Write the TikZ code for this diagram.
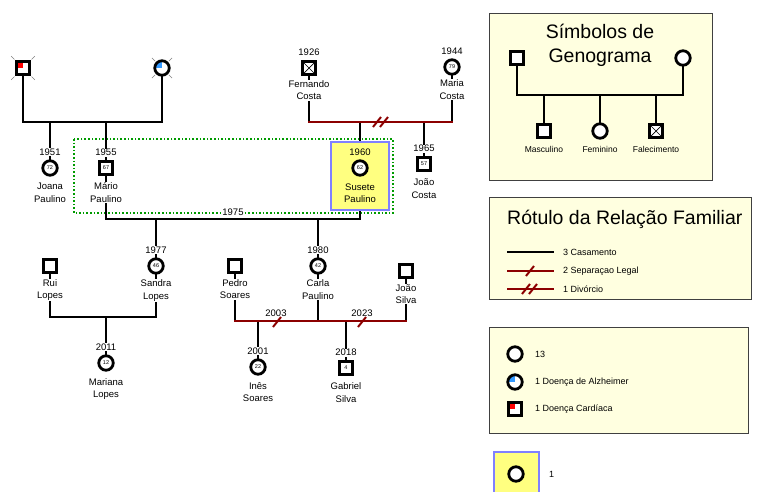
\documentclass[tikz,border=0pt]{standalone}
\usepackage{fontspec}
\setmainfont{Liberation Sans}
\usetikzlibrary{positioning,backgrounds,calc}
\definecolor{relred}{RGB}{140,0,0}
\definecolor{famgreen}{RGB}{0,155,0}
\definecolor{probblue}{RGB}{128,128,255}
\definecolor{probyellow}{RGB}{255,255,128}
\definecolor{legcream}{RGB}{255,255,224}
\definecolor{alzblue}{RGB}{51,153,255}

\begin{document}
\begin{tikzpicture}[x=1pt,y=-1pt,
    male/.style={
        draw,
        line width=2.8pt,
        fill=white,
        minimum size=13.5pt,
        inner sep=0pt,
        font=\fontsize{5.5}{5.5}\selectfont
    },
    female/.style={male, circle, minimum size=14.5pt},
    dead/.style={path picture={
        \draw[line width=0.7pt] (path picture bounding box.north west) -- (path picture bounding box.south east)
            (path picture bounding box.north east) -- (path picture bounding box.south west);}},
    cardiac/.style={path picture={
        \fill[red] (path picture bounding box.north west) rectangle (path picture bounding box.center);}},
    alzheimer/.style={path picture={
        \fill[alzblue] (path picture bounding box.north west) rectangle (path picture bounding box.center);}},
    yr/.style={font=\fontsize{9.5}{11}\selectfont, fill=white, inner sep=0.6pt},
    nm/.style={yr, align=center, font=\fontsize{9.5}{12.5}\selectfont},
    rel/.style={line width=2.4pt, line cap=rect},
    seprel/.style={line width=2.4pt, line cap=rect, relred},
    cutline/.style={line width=2pt, relred},
    ray/.style={gray, line width=0.6pt},
    legbox/.style={draw=black!75, fill=legcream, line width=0.8pt},
    probandbox/.style={draw=probblue, fill=probyellow, line width=2.6pt},
    famframe/.style={famgreen, dotted, line width=1.6pt},
    legtxt/.style={anchor=west, inner sep=0pt, font=\fontsize{9}{10}\selectfont},
    symtxt/.style={inner sep=0pt, font=\fontsize{8.5}{10}\selectfont},
    legtitle/.style={font=\fontsize{19.5}{24}\selectfont, align=center, inner sep=0pt}
]
\useasboundingbox (0,0) rectangle (758,491);

% ---------------- levels of the family lines ----------------
\coordinate (l1) at (0,122);
\coordinate (l2) at (0,122);
\coordinate (l3) at (0,219);
\coordinate (l4) at (0,317);
\coordinate (l5) at (0,321);

% ---------------- proband ----------------
\node[probandbox, minimum width=58pt, minimum height=68pt] (susbox) at (360,176) {};

% ---------------- people ----------------
\node[male, cardiac] (avo) at (23,68) {};
\node[female, alzheimer] (avoa) at (162,68) {};

\node[female] (joana) at (50,168) {72};
\node[yr, above=3pt of joana] (joanayr) {1951};
\node[nm, below=6pt of joana] (joananm) {Joana\\Paulino};

\node[male] (mario) at (106,168) {67};
\node[yr, above=3pt of mario] (marioyr) {1955};
\node[nm, below=6pt of mario] (marionm) {Mário\\Paulino};

\node[male, dead] (fernando) at (309,68) {};
\node[yr, above=3pt of fernando] (fernandoyr) {1926};
\node[nm, below=3.5pt of fernando] (fernandonm) {Fernando\\Costa};

\node[female] (maria) at (452,67) {79};
\node[yr, above=3pt of maria] (mariayr) {1944};
\node[nm, below=3.5pt of maria] (marianm) {Maria\\Costa};

\node[female] (susete) at (360,168) {62};
\node[yr, fill=none, above=3pt of susete] (suseteyr) {1960};
\node[nm, fill=none, below=6pt of susete] (susetenm) {Susete\\Paulino};

\node[male] (joaoc) at (424,164) {57};
\node[yr, above=3pt of joaoc] (joaocyr) {1965};
\node[nm, below=6pt of joaoc] (joaocnm) {João\\Costa};

\node[female] (sandra) at (156,266) {46};
\node[yr, above=3pt of sandra] (sandrayr) {1977};
\node[nm, below=4.5pt of sandra] (sandranm) {Sandra\\Lopes};

\node[male] (rui) at (50,266) {};
\node[nm, below=4.5pt of rui] (ruinm) {Rui\\Lopes};

\node[female] (mariana) at (106,363) {12};
\node[yr, above=3pt of mariana] (marianayr) {2011};
\node[nm, below=6pt of mariana] (mariananm) {Mariana\\Lopes};

\node[male] (pedro) at (235,266) {};
\node[nm, below=4.5pt of pedro] (pedronm) {Pedro\\Soares};

\node[female] (carla) at (318,266) {42};
\node[yr, above=3pt of carla] (carlayr) {1980};
\node[nm, below=4.5pt of carla] (carlanm) {Carla\\Paulino};

\node[male] (joaos) at (406,271) {};
\node[nm, below=4.5pt of joaos] (joaosnm) {João\\Silva};

\node[female] (ines) at (258,367) {22};
\node[yr, above=3pt of ines] (inesyr) {2001};
\node[nm, below=6pt of ines] (inesnm) {Inês\\Soares};

\node[male] (gabriel) at (346,368) {4};
\node[yr, above=3pt of gabriel] (gabrielyr) {2018};
\node[nm, below=6pt of gabriel] (gabrielnm) {Gabriel\\Silva};

% deceased marks
\foreach \a in {45,135,225,315} {
    \draw[ray] ($(avo)!1.05!(avo.\a)$) -- ($(avo)!1.45!(avo.\a)$);
    \draw[ray] ($(avoa)!1.12!(avoa.\a)$) -- ($(avoa)!1.65!(avoa.\a)$);
}

% relation labels
\node[yr] (y1975) at (233,212) {1975};
\node[yr] (y2003) at (276,313) {2003};
\node[yr] (y2023) at (362,313) {2023};

\coordinate (d1) at (381,122);
\coordinate (s1) at (277,322);
\coordinate (s2) at (362,322);
\draw[cutline] ($(d1)+(-8,5)$) -- ($(d1)+(0,-5)$);
\draw[cutline] ($(d1)+(-1,5)$) -- ($(d1)+(7,-5)$);
\draw[cutline] ($(s1)+(-4,5)$) -- ($(s1)+(4,-5)$);
\draw[cutline] ($(s2)+(-4,5)$) -- ($(s2)+(4,-5)$);

% ---------------- legend ----------------
\node[legtitle] (symtitle) at (600,45) {Símbolos de\\Genograma};
\node[male] (lm) at (517,58) {};
\node[female] (lf) at (683,58) {};
\node[male] (lc1) at (544,131) {};
\node[female] (lc2) at (600,131) {};
\node[male, dead] (lc3) at (656,131) {};
\node[symtxt] (lc1txt) at (544,149) {Masculino};
\node[symtxt] (lc2txt) at (600,149) {Feminino};
\node[symtxt] (lc3txt) at (656,149) {Falecimento};
\coordinate (ll) at (0,95);

\node[legtitle, anchor=west] (reltitle) at (507,219) {Rótulo da Relação Familiar};
\node[legtxt] (t1) at (563,252) {3 Casamento};
\node[legtxt] (t2) at (563,271) {2 Separaçao Legal};
\node[legtxt] (t3) at (563,289) {1 Divórcio};
\draw[seprel] (508,271) -- (553,271);
\draw[seprel] (508,289) -- (553,289);
\draw[cutline] (526,276) -- (534,266);
\draw[cutline] (522,294) -- (530,284);
\draw[cutline] (529,294) -- (537,284);

\node[female] (k1) at (515,354) {};
\node[female, alzheimer] (k2) at (515,382) {};
\node[male, cardiac] (k3) at (515,409) {};
\node[legtxt] (k1txt) at (535,354) {13};
\node[legtxt] (k2txt) at (535,382) {1 Doença de Alzheimer};
\node[legtxt] (k3txt) at (535,409) {1 Doença Cardíaca};

\draw[probandbox] (494,452) rectangle (539,498);
\node[female] (k4) at (516,474) {};
\node[legtxt] (k4txt) at (549,474) {1};

% ---------------- lines behind the symbols ----------------
\begin{scope}[on background layer]
\draw[legbox] (489,13) rectangle (712,180);
\draw[legbox] (489,197) rectangle (751,299);
\draw[legbox] (489,327) rectangle (748,433);
\draw[rel] (508,252) -- (553,252);
\draw[rel] (lm) -- (lm |- ll) -- (lf |- ll) -- (lf);
\foreach \c in {lc1,lc2,lc3}
    \draw[rel] (\c) -- (\c |- ll);

\draw[famframe] (74,139) rectangle (393,213);

\draw[rel] (avo) -- (avo |- l1) -- (avoa |- l1) -- (avoa);
\draw[rel] (joana) -- (joana |- l1);
\draw[rel] (mario) -- (mario |- l1);

\draw[rel] (fernando) -- (fernando |- l2);
\draw[rel] (maria) -- (maria |- l2);
\draw[rel] (susete) -- (susete |- l2);
\draw[rel] (joaoc) -- (joaoc |- l2);
\draw[seprel] (fernando |- l2) -- (maria |- l2);

\draw[rel] (mario) -- (mario |- l3) -- (susete |- l3) -- (susete);
\draw[rel] (sandra) -- (sandra |- l3);
\draw[rel] (carla) -- (carla |- l3);

\draw[rel] (rui) -- (rui |- l4) -- (sandra |- l4) -- (sandra);
\draw[rel] (mariana) -- (mariana |- l4);

\draw[rel] (pedro) -- (pedro |- l5);
\draw[rel] (carla) -- (carla |- l5);
\draw[rel] (joaos) -- (joaos |- l5);
\draw[rel] (ines) -- (ines |- l5);
\draw[rel] (gabriel) -- (gabriel |- l5);
\draw[seprel] (pedro |- l5) -- (joaos |- l5);
\end{scope}

\end{tikzpicture}
\end{document}
